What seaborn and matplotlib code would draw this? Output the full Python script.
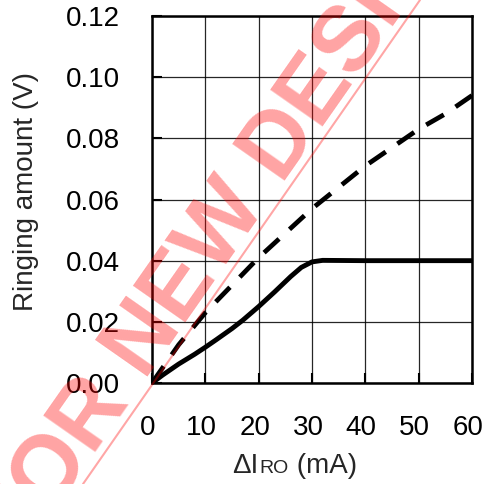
import matplotlib
matplotlib.use("Agg")
import matplotlib.pyplot as plt
import matplotlib.lines as mlines
import matplotlib.transforms as mtransforms
import seaborn as sns

# values
delta_i_solid = [0, 2, 5, 8, 10, 12, 15, 17, 20, 23, 26, 28, 30, 32, 40, 50, 60]
ringing_solid = [0, 0.0026, 0.0062, 0.0094, 0.0117, 0.0141, 0.0178, 0.0205, 0.0250,
                 0.0298, 0.0348, 0.0378, 0.0396, 0.0401, 0.040, 0.040, 0.040]

delta_i_dashed = [0, 5, 10, 15, 20, 25, 30, 35, 40, 45, 50, 55, 60]
ringing_dashed = [0, 0.0125, 0.023, 0.032, 0.041, 0.049, 0.057, 0.064, 0.071, 0.077, 0.083, 0.088, 0.094]

x_ticks = [0, 10, 20, 30, 40, 50, 60]
y_ticks = [0.00, 0.02, 0.04, 0.06, 0.08, 0.10, 0.12]
y_tick_labels = ["0.00", "0.02", "0.04", "0.06", "0.08", "0.10", "0.12"]

sns.set_style("white")
plt.rcParams["font.family"] = ["Liberation Sans", "DejaVu Sans"]

fig = plt.figure(figsize=(4.92, 4.84), dpi=100)
ax = fig.add_axes([152 / 492, 1 - 383 / 484, 320 / 492, 367 / 484])

sns.lineplot(x=delta_i_solid, y=ringing_solid, ax=ax, color="black", linewidth=3.5,
             solid_capstyle="butt", zorder=4)
sns.lineplot(x=delta_i_dashed, y=ringing_dashed, ax=ax, color="black", linewidth=3.4,
             zorder=4)
ax.lines[-1].set_dashes((4.3, 3.0))
ax.lines[-1].set_dash_capstyle("butt")

ax.set_xlim(0, 60)
ax.set_ylim(0, 0.12)
ax.set_xticks(x_ticks)
ax.set_yticks(y_ticks)
ax.set_yticklabels(y_tick_labels)
ax.grid(True, color="black", linewidth=0.9, alpha=0.85)
ax.tick_params(axis="both", direction="in", length=7, width=1.5, pad=23,
               labelsize=20, colors="black", left=True, bottom=True)
for sp in ax.spines.values():
    sp.set_color("black")
    sp.set_linewidth(1.8)
ax.set_xlabel("")
ax.set_ylabel("")

# x tick labels sit a few pixels left of their ticks in the reference
shift = mtransforms.ScaledTranslation(-4 / 100, 0, fig.dpi_scale_trans)
for lab in ax.get_xticklabels():
    lab.set_transform(lab.get_transform() + shift)

fig.text(26 / 492, 1 - 191 / 484, "Ringing amount (V)", rotation=90,
         ha="center", va="center", fontsize=20)

# x label: "ΔI" + small "RO" + " (mA)" on one baseline
fig.canvas.draw()
r = fig.canvas.get_renderer()
x0 = 232 / 492
yb = 1 - 473 / 484
t1 = fig.text(x0, yb, "\u0394I", fontsize=20, ha="left", va="baseline")
w1 = t1.get_window_extent(r).width / fig.bbox.width
t2 = fig.text(x0 + w1 + 0.002, yb, "RO", fontsize=14, ha="left", va="baseline")
w2 = t2.get_window_extent(r).width / fig.bbox.width
fig.text(x0 + w1 + w2 + 0.003, yb, " (mA)", fontsize=20, ha="left", va="baseline")

# watermark
fig.text(19.1 / 492, 1 - 560.5 / 484, "FOR NEW DESIGN", rotation=55, rotation_mode="anchor",
         ha="left", va="baseline", fontsize=66, fontweight="bold",
         color="red", alpha=0.36, zorder=10)
fig.add_artist(mlines.Line2D([83 / 492, 420 / 492], [0.0, 1.0],
                             color="red", alpha=0.35, linewidth=1.5, zorder=10))

fig.savefig("out.png", dpi=100)
